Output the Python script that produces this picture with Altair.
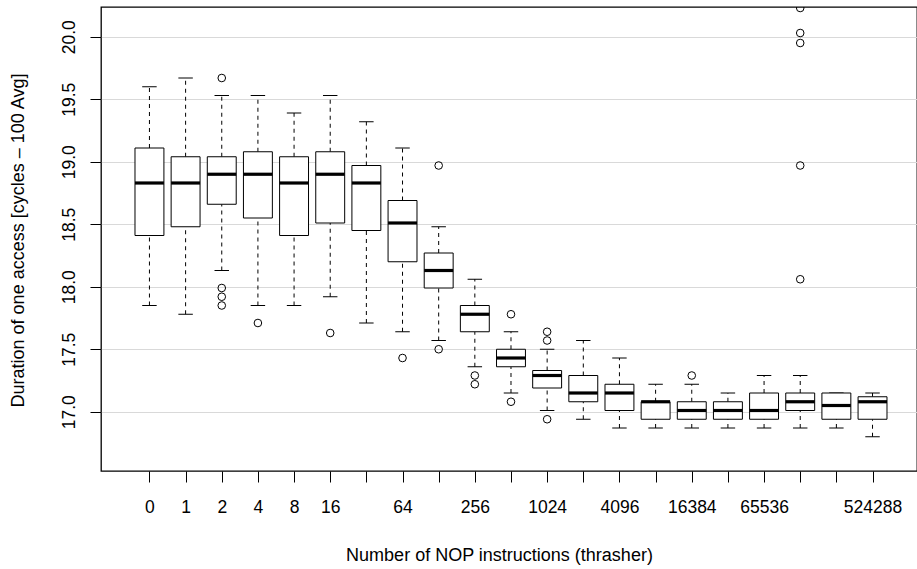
import altair as alt
import pandas as pd

# NOP counts on the x axis (one box per count)
nops = ["0", "1", "2", "4", "8", "16", "32", "64", "128", "256", "512",
        "1024", "2048", "4096", "8192", "16384", "32768", "65536",
        "131072", "262144", "524288"]
# labels that fit on the axis; the others stay blank
shown = ["0", "1", "2", "4", "8", "16", "", "64", "", "256", "",
         "1024", "", "4096", "", "16384", "", "65536", "", "", "524288"]

# five-number summaries (cycles - 100, averaged)
lower = [17.85, 17.78, 18.13, 17.85, 17.85, 17.92, 17.71, 17.64, 17.57, 17.36, 17.15,
         17.01, 16.94, 16.87, 16.87, 16.87, 16.87, 16.87, 16.87, 16.87, 16.80]
q1 = [18.41, 18.48, 18.66, 18.55, 18.41, 18.51, 18.45, 18.20, 17.99, 17.64, 17.36,
      17.19, 17.08, 17.01, 16.94, 16.94, 16.94, 16.94, 17.01, 16.94, 16.94]
median = [18.83, 18.83, 18.90, 18.90, 18.83, 18.90, 18.83, 18.51, 18.13, 17.78, 17.43,
          17.29, 17.15, 17.15, 17.08, 17.01, 17.01, 17.01, 17.08, 17.05, 17.08]
q3 = [19.11, 19.04, 19.04, 19.08, 19.04, 19.08, 18.97, 18.69, 18.27, 17.85, 17.50,
      17.33, 17.29, 17.22, 17.08, 17.08, 17.08, 17.15, 17.15, 17.15, 17.12]
upper = [19.60, 19.67, 19.53, 19.53, 19.39, 19.53, 19.32, 19.11, 18.48, 18.06, 17.64,
         17.50, 17.57, 17.43, 17.22, 17.22, 17.15, 17.29, 17.29, 17.15, 17.15]
outliers = [[], [], [19.67, 17.99, 17.92, 17.85], [17.71], [], [17.63], [],
            [17.43], [18.97, 17.50], [17.29, 17.22], [17.78, 17.08],
            [17.64, 17.57, 16.94], [], [], [], [17.29], [], [],
            [20.23, 20.03, 19.95, 18.97, 18.06], [], []]

boxes = pd.DataFrame({
    "pos": list(range(1, len(nops) + 1)),
    "nops": nops, "lower": lower, "q1": q1, "median": median,
    "q3": q3, "upper": upper,
})
points = pd.DataFrame(
    [{"pos": i + 1, "value": v} for i, vals in enumerate(outliers) for v in vals]
)

FONT = "Liberation Sans"
label_array = "[" + ",".join("'%s'" % s for s in shown) + "]"

xscale = alt.Scale(domain=[-0.34, 22.23], nice=False, zero=False)
yscale = alt.Scale(domain=[16.526, 20.238], nice=False, zero=False)

x_axis = alt.Axis(
    values=list(range(1, len(nops) + 1)),
    labelExpr=label_array + "[datum.value - 1]",
    title="Number of NOP instructions (thrasher)",
    grid=False, domain=False, tickColor="black", tickSize=11,
    labelFont=FONT, labelFontSize=17.5, labelColor="black", labelPadding=16,
    titleFont=FONT, titleFontSize=18, titleFontWeight="normal",
    titleColor="black", titlePadding=31, titleX=398, titleAlign="center",
)
y_axis = alt.Axis(
    values=[17.0, 17.5, 18.0, 18.5, 19.0, 19.5, 20.0], format=".1f",
    title="Duration of one access [cycles \u2013 100 Avg]",
    grid=True, gridColor="#d9d9d9", gridWidth=1.2,
    domain=False, tickColor="black", tickSize=11,
    labelAngle=-90, labelAlign="center", labelBaseline="bottom",
    labelFont=FONT, labelFontSize=17.5, labelColor="black", labelPadding=12,
    titleFont=FONT, titleFontSize=18, titleFontWeight="normal",
    titleColor="black", titlePadding=33, titleY=233, titleAlign="center",
)

base = alt.Chart(boxes)

whisk_lo = base.mark_rule(color="black", strokeWidth=1, strokeDash=[4, 4]).encode(
    x=alt.X("pos:Q", scale=xscale, axis=x_axis),
    y=alt.Y("lower:Q", scale=yscale, axis=y_axis),
    y2="q1:Q",
)
whisk_hi = base.mark_rule(color="black", strokeWidth=1, strokeDash=[4, 4]).encode(
    x="pos:Q", y="q3:Q", y2="upper:Q",
)
caps_lo = base.transform_calculate(
    a="datum.pos - 0.2", b="datum.pos + 0.2"
).mark_rule(color="black", strokeWidth=1).encode(x="a:Q", x2="b:Q", y="lower:Q")
caps_hi = base.transform_calculate(
    a="datum.pos - 0.2", b="datum.pos + 0.2"
).mark_rule(color="black", strokeWidth=1).encode(x="a:Q", x2="b:Q", y="upper:Q")

box = base.transform_calculate(
    a="datum.pos - 0.4", b="datum.pos + 0.4"
).mark_rect(fill="white", stroke="black", strokeWidth=1).encode(
    x="a:Q", x2="b:Q", y="q1:Q", y2="q3:Q",
)
med = base.transform_calculate(
    a="datum.pos - 0.4", b="datum.pos + 0.4"
).mark_rule(color="black", strokeWidth=3.2).encode(x="a:Q", x2="b:Q", y="median:Q")

outl = alt.Chart(points).mark_point(
    shape="circle", filled=False, color="black", strokeWidth=1, size=58, clip=True,
    opacity=1,
).encode(x="pos:Q", y="value:Q")

chart = alt.layer(whisk_lo, whisk_hi, caps_lo, caps_hi, box, med, outl).properties(
    width=816, height=464,
    autosize=alt.AutoSizeParams(type="none"),
    padding={"left": 101, "top": 7, "right": 0, "bottom": 98},
    background="white",
).configure_view(stroke="black", strokeWidth=1.3)

chart.save("out.html", embed_options={"renderer": "svg", "actions": False})
